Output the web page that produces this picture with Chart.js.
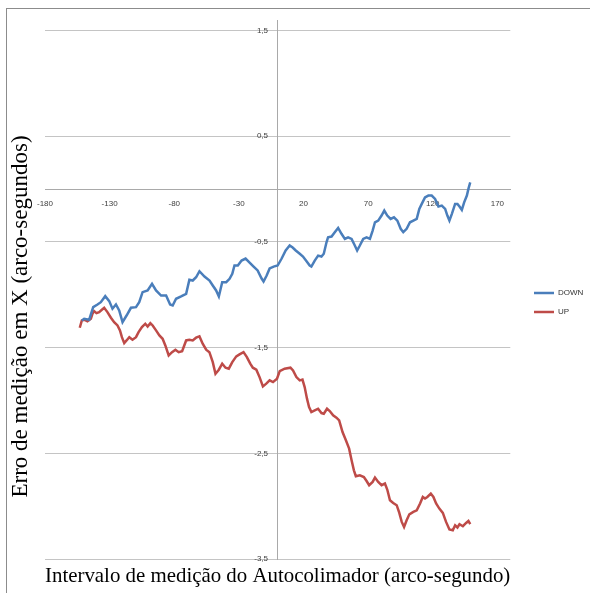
<!DOCTYPE html>
<html>
<head>
<meta charset="utf-8">
<script src="https://cdn.jsdelivr.net/npm/chart.js@4/dist/chart.umd.min.js"></script>
<style>
  html, body { margin: 0; padding: 0; background: #fff; overflow: hidden; }
  #wrap { position: relative; width: 590px; height: 593px; }
  #frame { position: absolute; left: 6px; top: 8px; width: 640px; height: 640px;
           border: 1px solid #8c8c8c; box-sizing: border-box; pointer-events: none; }
  canvas { position: absolute; left: 0; top: 0; }
</style>
</head>
<body>
<div id="wrap">
  <canvas id="c" width="590" height="593"></canvas>
  <div id="frame"></div>
</div>
<script>
// Axis ticks
const xTicks = [-180, -130, -80, -30, 20, 70, 120, 170];
const yTicks = [-3.5, -2.5, -1.5, -0.5, 0.5, 1.5];

// Titles and series names
const xTitleText = 'Intervalo de medição do Autocolimador (arco-segundo)';
const yTitleText = 'Erro de medição em X (arco-segundos)';
const seriesNames = ['DOWN', 'UP'];

// DOWN run: position (arc-seconds) and measured error (arc-seconds)
const downX = [-151.5,-149.7,-145.8,-142.7,-139.4,-136.8,-133.4,-130.3,-127.8,-125.1,
  -122.6,-120.0,-116.9,-113.5,-109.6,-107.1,-104.5,-100.6,-97.2,-94.1,
  -90.2,-86.3,-83.2,-81.2,-78.6,-74.7,-70.8,-68.3,-65.7,-63.1,
  -60.5,-56.6,-52.7,-50.2,-47.6,-45.5,-42.9,-39.8,-37.2,-35.1,
  -33.4,-30.8,-27.9,-24.8,-21.7,-18.6,-15.5,-12.4,-10.9,-8.5,
  -6.2,-3.1,0,3.1,6.2,9.3,11.6,14.0,17.1,19.6,
  22.5,24.8,26.1,28.7,31.3,33.9,35.7,37.8,39.0,41.7,
  44.2,46.8,49.4,52.0,54.5,57.2,59.7,61.5,63.6,66.2,
  68.8,71.4,73.5,75.3,77.8,80.4,82.5,84.8,87.4,90.0,
  92.6,95.2,97.2,99.8,102.4,105.0,107.6,109.6,111.5,114.0,
  116.6,119.2,121.8,124.4,127.0,129.6,131.3,132.9,134.8,137.3,
  139.1,140.7,142.5,144.3,146.4,147.6,149.0];
const downY = [-1.243,-1.227,-1.236,-1.117,-1.092,-1.070,-1.013,-1.060,-1.132,-1.092,
  -1.148,-1.259,-1.196,-1.123,-1.117,-1.070,-0.975,-0.959,-0.896,-0.959,
  -1.007,-1.007,-1.092,-1.101,-1.038,-1.016,-0.991,-0.858,-0.865,-0.834,
  -0.777,-0.827,-0.865,-0.912,-0.959,-1.016,-0.881,-0.881,-0.849,-0.802,
  -0.723,-0.723,-0.676,-0.657,-0.695,-0.733,-0.770,-0.846,-0.874,-0.818,
  -0.751,-0.733,-0.723,-0.657,-0.581,-0.534,-0.553,-0.581,-0.612,-0.638,
  -0.685,-0.723,-0.733,-0.676,-0.629,-0.638,-0.612,-0.503,-0.456,-0.449,
  -0.408,-0.367,-0.423,-0.471,-0.456,-0.471,-0.534,-0.581,-0.534,-0.471,
  -0.456,-0.471,-0.392,-0.314,-0.298,-0.250,-0.203,-0.250,-0.282,-0.267,
  -0.298,-0.376,-0.408,-0.376,-0.314,-0.298,-0.282,-0.187,-0.140,-0.078,
  -0.061,-0.061,-0.093,-0.165,-0.156,-0.187,-0.250,-0.298,-0.234,-0.140,
  -0.140,-0.165,-0.197,-0.125,-0.061,0.002,0.064];

// UP run
const upX = [-153.1,-151.5,-149.7,-147.2,-144.5,-143.3,-142.0,-140.2,-138.1,-136.0,
  -134.2,-131.7,-129.0,-126.5,-123.9,-122.0,-120.5,-118.7,-116.9,-114.8,
  -112.3,-109.6,-107.6,-105.0,-102.4,-100.6,-98.5,-96.7,-94.1,-91.5,
  -89.0,-86.9,-84.3,-81.7,-79.1,-76.6,-73.9,-70.8,-68.3,-65.7,
  -63.1,-60.5,-58.0,-55.3,-52.8,-50.2,-48.1,-45.5,-42.9,-40.3,
  -37.8,-35.1,-32.0,-29.5,-26.4,-23.8,-21.2,-19.2,-16.5,-14.0,
  -11.4,-8.8,-6.2,-3.6,-0.5,1.6,5.4,9.9,11.9,14.5,
  17.1,19.2,20.9,22.7,24.3,26.1,28.7,31.3,33.9,35.7,
  38.2,40.3,42.9,45.5,47.6,50.2,52.8,55.3,57.2,59.0,
  60.5,63.6,66.7,68.8,70.8,73.5,75.3,77.8,80.4,83.0,
  84.8,86.9,89.4,92.1,93.9,96.0,97.8,99.8,101.9,105.0,
  107.6,110.2,112.3,114.0,115.8,118.5,120.5,122.6,125.1,127.8,
  130.3,132.9,135.5,137.3,139.1,140.7,143.3,145.8,147.6,149.0];
const upY = [-1.312,-1.243,-1.236,-1.250,-1.227,-1.180,-1.155,-1.174,-1.164,-1.142,
  -1.123,-1.164,-1.217,-1.259,-1.290,-1.337,-1.401,-1.457,-1.432,-1.401,
  -1.425,-1.401,-1.353,-1.306,-1.274,-1.300,-1.268,-1.290,-1.337,-1.385,
  -1.416,-1.479,-1.574,-1.543,-1.520,-1.543,-1.533,-1.432,-1.425,-1.432,
  -1.406,-1.394,-1.463,-1.520,-1.543,-1.637,-1.747,-1.709,-1.652,-1.690,
  -1.699,-1.637,-1.583,-1.564,-1.543,-1.590,-1.652,-1.690,-1.709,-1.779,
  -1.867,-1.841,-1.810,-1.826,-1.794,-1.722,-1.699,-1.690,-1.716,-1.779,
  -1.810,-1.803,-1.873,-1.983,-2.062,-2.110,-2.094,-2.078,-2.119,-2.125,
  -2.078,-2.100,-2.141,-2.163,-2.188,-2.299,-2.377,-2.456,-2.566,-2.661,
  -2.717,-2.708,-2.724,-2.762,-2.802,-2.771,-2.730,-2.771,-2.802,-2.786,
  -2.843,-2.944,-2.970,-2.991,-3.055,-3.149,-3.197,-3.133,-3.077,-3.055,
  -3.039,-2.975,-2.913,-2.928,-2.913,-2.881,-2.913,-2.975,-3.023,-3.064,
  -3.149,-3.221,-3.228,-3.181,-3.202,-3.171,-3.190,-3.159,-3.140,-3.171];

const toPoints = (xs, ys) => xs.map((x, i) => ({ x: x, y: ys[i] }));
// Decimal comma, plus a little trailing room so labels sit clear of the vertical axis
const yLabel = v => String(v).replace('.', ',') + '\u2003\u2009';

const tickFont = { family: 'Liberation Sans', size: 8 };
const xTitleFont = { family: 'Liberation Serif', size: 21.5 };
const yTitleFont = { family: 'Liberation Serif', size: 23 };
const hidden = {
  ticks: { display: false },
  grid: { display: false, drawTicks: false },
  border: { display: false }
};

// Moves the vertical axis title a little below the plot's mid-height
const yTitleShift = {
  id: 'yTitleShift',
  afterLayout(chart) {
    const s = chart.scales.yTitle;
    s.top += 27;
    s.bottom += 27;
  }
};

new Chart(document.getElementById('c'), {
  type: 'line',
  data: {
    datasets: [
      { label: seriesNames[0], data: toPoints(downX, downY), borderColor: '#4a7ebb',
        backgroundColor: '#4a7ebb', borderWidth: 2.5, pointRadius: 0, tension: 0,
        xAxisID: 'x', yAxisID: 'y' },
      { label: seriesNames[1], data: toPoints(upX, upY), borderColor: '#be4b48',
        backgroundColor: '#be4b48', borderWidth: 2.5, pointRadius: 0, tension: 0,
        xAxisID: 'x', yAxisID: 'y' }
    ]
  },
  plugins: [yTitleShift],
  options: {
    responsive: false,
    animation: false,
    events: [],
    layout: { padding: { top: 20, left: 0, right: 0, bottom: 0 } },
    plugins: {
      tooltip: { enabled: false },
      legend: {
        position: 'right',
        fullSize: false,
        maxWidth: 67,
        title: { display: true, text: '', padding: { top: 25, bottom: 0 },
                 font: { size: 1, lineHeight: 1 } },
        labels: { usePointStyle: true, pointStyle: 'line', pointStyleWidth: 20,
                  padding: 11, font: tickFont, color: '#333333' }
      }
    },
    scales: {
      x: {
        type: 'linear', position: { y: 0 }, min: -180, max: 180,
        afterBuildTicks: s => { s.ticks = xTicks.map(v => ({ value: v })); },
        grid: { display: false, drawTicks: false },
        border: { display: true, color: '#a9a9a9', width: 1 },
        ticks: { font: tickFont, color: '#404040', padding: 10, maxRotation: 0, autoSkip: false }
      },
      y: {
        type: 'linear', position: { x: 0 }, min: -3.5, max: 1.6,
        afterBuildTicks: s => { s.ticks = yTicks.map(v => ({ value: v })); },
        grid: { color: '#c4c4c4', lineWidth: 1, drawTicks: false },
        border: { display: true, color: '#a9a9a9', width: 1 },
        ticks: { font: tickFont, color: '#404040', padding: 10, autoSkip: false,
                 callback: v => yLabel(v) }
      },
      yTitle: Object.assign({}, hidden, {
        type: 'linear', position: 'left',
        afterFit: s => { s.width = 45; },
        title: { display: true, text: yTitleText, font: yTitleFont, color: '#000',
                 padding: { top: 7, bottom: 0 } }
      }),
      xTitle: Object.assign({}, hidden, {
        type: 'linear', position: 'bottom',
        afterFit: s => { s.height = 34; },
        title: { display: true, text: xTitleText, font: xTitleFont, color: '#000',
                 padding: { top: 0, bottom: 4 } }
      }),
      rGap: Object.assign({}, hidden, {
        type: 'linear', position: 'right',
        afterFit: s => { s.width = 12.7; }
      })
    }
  }
});
</script>
</body>
</html>
